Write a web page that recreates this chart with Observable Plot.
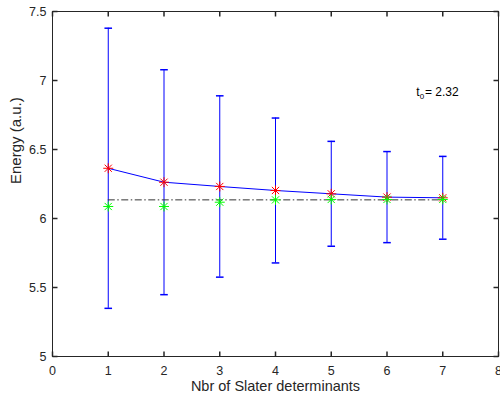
<!DOCTYPE html>
<html><head><meta charset="utf-8">
<script src="https://cdn.jsdelivr.net/npm/d3@7"></script>
<script src="https://cdn.jsdelivr.net/npm/@observablehq/plot@0.6"></script>
<style>body{margin:0;background:#fff;} svg{display:block;}</style>
</head><body><div id="chart"></div>
<script>
// ---- data ----
const nSlater = [1, 2, 3, 4, 5, 6, 7];
const meanEnergy = [6.364, 6.263, 6.232, 6.203, 6.179, 6.155, 6.150];
const errEnergy = [1.015, 0.815, 0.657, 0.525, 0.380, 0.330, 0.300];
const greenEnergy = [6.087, 6.087, 6.118, 6.135, 6.138, 6.138, 6.138];
const refEnergy = 6.135;
const refRange = [1, 7];
const xTicks = [0, 1, 2, 3, 4, 5, 6, 7, 8];
const yTicks = [5, 5.5, 6, 6.5, 7, 7.5];
const xDomain = [0, 8];
const yDomain = [5, 7.5];
const xLabel = "Nbr of Slater determinants";
const yLabel = "Energy (a.u.)";
const annotX = 6.524, annotY = 6.889;
const annotT = "t", annotSub = "0", annotRest = "= 2.32";

const rows = nSlater.map((n, i) => ({
  n, mean: meanEnergy[i], lo: meanEnergy[i] - errEnergy[i], hi: meanEnergy[i] + errEnergy[i], green: greenEnergy[i]
}));

// ---- custom symbols ----
const star = {draw(ctx, size) {
  const r = Math.sqrt(size / Math.PI), d = r * 0.72;
  ctx.moveTo(-r, 0); ctx.lineTo(r, 0);
  ctx.moveTo(0, -r); ctx.lineTo(0, r);
  ctx.moveTo(-d, -d); ctx.lineTo(d, d);
  ctx.moveTo(-d, d); ctx.lineTo(d, -d);
}};
const cap = {draw(ctx, size) {
  const r = Math.sqrt(size / Math.PI);
  ctx.moveTo(-r, 0); ctx.lineTo(r, 0);
}};
const tickUp = {draw(ctx, size) { const r = Math.sqrt(size / Math.PI); ctx.moveTo(0, 0); ctx.lineTo(0, -r); }};
const tickDown = {draw(ctx, size) { const r = Math.sqrt(size / Math.PI); ctx.moveTo(0, 0); ctx.lineTo(0, r); }};
const tickRight = {draw(ctx, size) { const r = Math.sqrt(size / Math.PI); ctx.moveTo(0, 0); ctx.lineTo(r, 0); }};
const tickLeft = {draw(ctx, size) { const r = Math.sqrt(size / Math.PI); ctx.moveTo(0, 0); ctx.lineTo(-r, 0); }};

const axisColor = "#262626";
const font = "'Liberation Sans', Arial, Helvetica, sans-serif";

const chart = Plot.plot({
  width: 500,
  height: 401,
  marginLeft: 52,
  marginRight: 2,
  marginTop: 11,
  marginBottom: 45,
  style: {fontFamily: font, color: axisColor, background: "#fff"},
  x: {domain: xDomain},
  y: {domain: yDomain},
  marks: [
    Plot.frame({stroke: axisColor, strokeWidth: 1}),
    // inward ticks on all four sides
    Plot.dot(xTicks, {x: d => d, y: () => yDomain[0], symbol: tickUp, r: 5, stroke: axisColor, fill: "none"}),
    Plot.dot(xTicks, {x: d => d, y: () => yDomain[1], symbol: tickDown, r: 5, stroke: axisColor, fill: "none"}),
    Plot.dot(yTicks, {y: d => d, x: () => xDomain[0], symbol: tickRight, r: 5, stroke: axisColor, fill: "none"}),
    Plot.dot(yTicks, {y: d => d, x: () => xDomain[1], symbol: tickLeft, r: 5, stroke: axisColor, fill: "none"}),
    Plot.axisX({ticks: xTicks, tickSize: 0, tickPadding: 9.5, tickFormat: d => String(d), label: null, fontSize: 12.5, fill: axisColor}),
    Plot.axisY({ticks: yTicks, tickSize: 0, tickPadding: 6, tickFormat: d => String(d), label: null, fontSize: 12.5, fill: axisColor}),
    Plot.text([xLabel], {frameAnchor: "bottom", dy: 34.5, lineAnchor: "bottom", text: d => d, fontSize: 14.5, fill: axisColor}),
    Plot.text([yLabel], {frameAnchor: "left", dx: -32, rotate: -90, lineAnchor: "bottom", text: d => d, fontSize: 15, fill: axisColor}),
    // error bars
    Plot.ruleX(rows, {x: "n", y1: "lo", y2: "hi", stroke: "#0000ff", strokeWidth: 1}),
    Plot.dot(rows, {x: "n", y: "lo", symbol: cap, r: 3.8, stroke: "#0000ff", fill: "none"}),
    Plot.dot(rows, {x: "n", y: "hi", symbol: cap, r: 3.8, stroke: "#0000ff", fill: "none"}),
    // mean line
    Plot.line(rows, {x: "n", y: "mean", stroke: "#0000ff", strokeWidth: 1}),
    // reference dash-dot line
    Plot.ruleY([refEnergy], {x1: refRange[0], x2: refRange[1], stroke: "#333", strokeWidth: 1, strokeDasharray: "7,2.5,1.5,2.5"}),
    Plot.dot(rows, {x: "n", y: "mean", symbol: star, r: 5, stroke: "#ff0000", fill: "none", strokeWidth: 1}),
    Plot.dot(rows, {x: "n", y: "green", symbol: star, r: 5, stroke: "#00ff00", fill: "none", strokeWidth: 1}),
    // annotation t_0 = 2.32
    Plot.text([annotT], {x: () => annotX, y: () => annotY, text: d => d, textAnchor: "start", lineAnchor: "bottom", fontSize: 12, fill: "#000"}),
    Plot.text([annotSub], {x: () => annotX, y: () => annotY, text: d => d, textAnchor: "start", lineAnchor: "bottom", dx: 3.5, dy: 3, fontSize: 8, fill: "#000"}),
    Plot.text([annotRest], {x: () => annotX, y: () => annotY, text: d => d, textAnchor: "start", lineAnchor: "bottom", dx: 8.7, fontSize: 12, fill: "#000"})
  ]
});
document.getElementById("chart").appendChild(chart);
</script>
</body></html>
